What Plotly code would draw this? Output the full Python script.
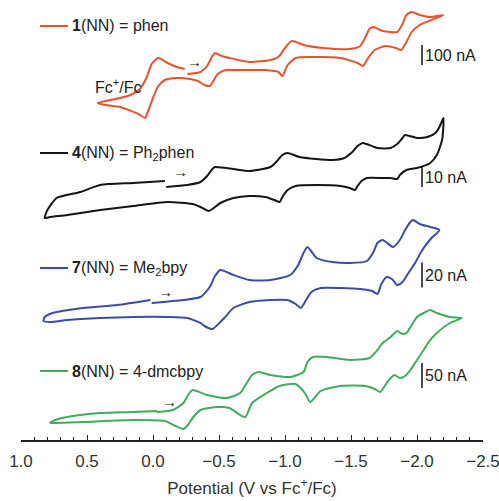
import plotly.graph_objects as go

# ---------------- data (potential in V vs Fc+/Fc, current in nA) ----------------
E_1 = [-0.26, -0.36, -0.41, -0.45, -0.47, -0.52, -0.58, -0.73, -0.89, -0.95, -1.00, -1.04, -1.06, -1.14, -1.29,
       -1.49, -1.57, -1.61, -1.64, -1.67, -1.74, -1.85, -1.89, -1.92, -1.96, -2.02, -2.10, -2.20,
       -2.11, -2.02, -1.96, -1.92, -1.88, -1.84, -1.76, -1.68, -1.63, -1.59, -1.55, -1.42, -1.19, -1.08,
       -1.02, -0.98, -0.95, -0.85, -0.73, -0.62, -0.55, -0.49, -0.43, -0.39, -0.34, -0.28, -0.18, -0.09,
       -0.04, 0.00, 0.04, 0.06, 0.11, 0.25, 0.36, 0.42,
       0.36, 0.25, 0.17, 0.10, 0.05, 0.01, -0.04, -0.11, -0.18, -0.24]
I_1 = [30, 40, 70, 120, 135, 120, 110, 90, 100, 115, 160, 190, 195, 175, 160,
       155, 170, 215, 255, 265, 245, 240, 280, 325, 340, 325, 315, 325,
       300, 275, 240, 190, 150, 160, 170, 150, 110, 70, 85, 110, 115, 110,
       75, 20, 40, 50, 50, 50, 50, 30, -30, -25, -5, 5, 10, 0,
       -30, -90, -160, -190, -170, -135, -125, -115,
       -105, -90, -75, -45, 10, 80, 110, 85, 65, 55]

E_4 = [-0.10, -0.26, -0.36, -0.41, -0.45, -0.47, -0.61, -0.73, -0.89, -0.94, -0.98, -1.02, -1.11, -1.36,
       -1.45, -1.51, -1.55, -1.59, -1.70, -1.80, -1.85, -1.89, -1.91, -2.00, -2.08, -2.14, -2.17, -2.20,
       -2.20, -2.19, -2.15, -2.10, -2.00, -1.92, -1.87, -1.85, -1.80, -1.74, -1.62, -1.58, -1.55, -1.53,
       -1.49, -1.42, -1.24, -1.08, -1.02, -0.98, -0.96, -0.92, -0.85, -0.73, -0.61, -0.51, -0.45, -0.42,
       -0.36, -0.30, -0.11, 0.15, 0.40, 0.65, 0.78, 0.82,
       0.80, 0.73, 0.55, 0.40, 0.15, -0.09]
I_4 = [1.5, 2.5, 4, 7, 10.5, 11.5, 10.5, 9.5, 11.5, 14.5, 17.5, 18.5, 16.5, 15,
       16, 19, 22, 23.5, 21, 21, 23, 26, 27.5, 26, 26.5, 28.5, 31.5, 36,
       32.5, 25, 17.5, 13.5, 11, 10, 7.5, 5.5, 6, 6, 6, 4.5, 2, 0,
       1, 2, 2.5, 2, 0, -3.5, -6, -5, -3.5, -3, -4, -6.5, -9.5, -10.5,
       -8.5, -7, -6, -8, -10, -12.5, -13.5, -14,
       -10, -4, -1, 2.5, 3.5, 4.5]

E_7 = [0.01, -0.23, -0.36, -0.43, -0.47, -0.51, -0.61, -0.73, -0.89, -1.04, -1.10, -1.14, -1.17, -1.24,
       -1.36, -1.49, -1.62, -1.67, -1.70, -1.74, -1.82, -1.87, -1.91, -1.95, -1.97, -2.02, -2.10, -2.17,
       -2.11, -2.04, -1.99, -1.93, -1.89, -1.85, -1.81, -1.77, -1.73, -1.70, -1.66, -1.57, -1.42, -1.27,
       -1.20, -1.16, -1.12, -1.08, -1.02, -0.89, -0.73, -0.61, -0.54, -0.51, -0.45, -0.39, -0.36, -0.26,
       -0.11, 0.15, 0.40, 0.65, 0.78, 0.83,
       0.82, 0.76, 0.53, 0.27, 0.02]
I_7 = [-2.4, 0, 2.4, 10.4, 19.2, 24, 20, 16, 16, 20, 28, 37.6, 42.4, 33.6,
       30.4, 29.6, 31.2, 38.4, 45.6, 48, 42.4, 48, 56, 62.4, 64, 60.8, 58.4, 56,
       49.6, 40, 30.4, 20.8, 14.4, 12, 16.8, 18.4, 12.8, 4.8, 7.2, 8.8, 9.6, 9.6,
       6.4, 0, -6.4, -3.2, 0, 0, -1.6, -6.4, -14.4, -17.6, -23.2, -20.8, -18.4, -14.4,
       -13.6, -13.6, -14.4, -16, -17.6, -16.8,
       -13.6, -10.4, -6.4, -4, 0]

E_8 = [-0.03, -0.15, -0.23, -0.27, -0.30, -0.41, -0.56, -0.66, -0.71, -0.75, -0.80, -0.89, -1.04, -1.14,
       -1.17, -1.21, -1.32, -1.49, -1.64, -1.70, -1.74, -1.80, -1.85, -1.89, -1.92, -1.96, -2.00, -2.05,
       -2.10, -2.15, -2.25, -2.34,
       -2.25, -2.15, -2.10, -2.05, -1.99, -1.95, -1.91, -1.87, -1.83, -1.80, -1.76, -1.72, -1.68, -1.61,
       -1.42, -1.27, -1.21, -1.19, -1.15, -1.08, -0.96, -0.85, -0.75, -0.70, -0.66, -0.58, -0.49, -0.36,
       -0.30, -0.27, -0.23, -0.17, -0.09, 0.15, 0.53, 0.74, 0.78,
       0.74, 0.65, 0.40, 0.15, -0.03]
I_8 = [-24, -20, -6, 12, 20, 10, 4, 14, 34, 50, 56, 50, 46, 56,
       76, 86, 86, 80, 84, 100, 114, 126, 138, 132, 134, 150, 166, 174,
       180, 174, 166, 164,
       154, 134, 120, 100, 76, 60, 48, 44, 50, 44, 30, 16, 22, 28,
       28, 18, 0, -4, 14, 32, 28, 12, -6, -34, -30, -16, -14, -20,
       -36, -48, -58, -52, -42, -40, -44, -46, -46,
       -40, -34, -26, -24, -22]

compound_numbers = ["1", "4", "7", "8"]
ligand_labels = ["phen", "Ph<sub>2</sub>phen", "Me<sub>2</sub>bpy", "4-dmcbpy"]
scale_bar_nA = [100, 10, 20, 50]
x_tick_values = [1.0, 0.5, 0.0, -0.5, -1.0, -1.5, -2.0, -2.5]

# ---------------- layout constants ----------------
W, H = 499, 501
ML, MR, MT, MB = 21, 16, 0, 61
PH = H - MT - MB          # plot height in px
PW = W - ML - MR

colors = ["#E5532F", "#151515", "#3D4CA3", "#42AC5E"]
# row (px) of zero current, nA per px for each stacked trace
placement = [(80, 5.0), (190, 0.5), (300, 0.8), (400, 2.0)]
legend_rows = [26, 153, 268, 371]
bar_bottom_nA = [75, 1.5, 10, 24]
arrow_pos = [(194, 62), (180, 172), (165, 291), (169, 401)]

def px(x, y):
    return (x - ML) / PW, (MT + PH - y) / PH

series = [(E_1, I_1), (E_4, I_4), (E_7, I_7), (E_8, I_8)]
axes_names = ["y", "y2", "y3", "y4"]

fig = go.Figure()
for k, ((E, I), col, ax) in enumerate(zip(series, colors, axes_names)):
    fig.add_trace(go.Scatter(x=E, y=I, mode="lines", yaxis=ax, showlegend=False,
                             line=dict(color=col, width=2, shape="spline", smoothing=0.6),
                             hoverinfo="skip"))

layout_axes = {}
for k, ax in enumerate(axes_names):
    y0, s = placement[k]
    rng = [(y0 - (MT + PH)) * s, (y0 - MT) * s]
    key = "yaxis" if ax == "y" else "yaxis" + ax[1:]
    d = dict(range=rng, visible=False, fixedrange=True)
    if ax != "y":
        d["overlaying"] = "y"
    layout_axes[key] = d

shapes = []
annotations = []
font = "Liberation Sans, Arial, sans-serif"
FS = 16
for k in range(4):
    yref = axes_names[k]
    x0p, yp = px(40, legend_rows[k])
    x1p, _ = px(68, legend_rows[k])
    shapes.append(dict(type="line", xref="paper", yref="paper", x0=x0p, x1=x1p, y0=yp, y1=yp,
                       line=dict(color=colors[k], width=2)))
    tx, _ = px(70, legend_rows[k])
    annotations.append(dict(xref="paper", yref="paper", x=tx, y=yp, xanchor="left", yanchor="middle",
                            text=f"<b>{compound_numbers[k]}</b>(NN) = {ligand_labels[k]}",
                            showarrow=False, font=dict(size=FS, color="#222", family=font)))
    xb = 1.0 - (422 - ML) / PW * 3.5
    b0 = bar_bottom_nA[k]
    shapes.append(dict(type="line", xref="x", yref=yref, x0=xb, x1=xb, y0=b0, y1=b0 + scale_bar_nA[k],
                       line=dict(color="#111", width=1.5)))
    annotations.append(dict(xref="x", yref=yref, x=xb, y=b0 + scale_bar_nA[k] / 2, xanchor="left",
                            yanchor="middle", xshift=1, text=f"{scale_bar_nA[k]} nA", showarrow=False,
                            font=dict(size=FS, color="#222", family=font)))
    ax_, ay_ = px(*arrow_pos[k])
    annotations.append(dict(xref="paper", yref="paper", x=ax_, y=ay_, text="→", showarrow=False,
                            xanchor="center", yanchor="middle",
                            font=dict(size=15, color="#222", family=font)))

fx, fy = px(118, 86)
annotations.append(dict(xref="paper", yref="paper", x=fx, y=fy, text="Fc<sup>+</sup>/Fc", showarrow=False,
                        xanchor="center", yanchor="middle",
                        font=dict(size=FS, color="#222", family=font)))

fig.update_layout(
    width=W, height=H, margin=dict(l=ML, r=MR, t=MT, b=MB),
    paper_bgcolor="white", plot_bgcolor="white",
    xaxis=dict(range=[1.0, -2.5], tickvals=x_tick_values, tickformat=".1f",
               ticks="inside", ticklen=5, tickwidth=1.2, tickcolor="#222",
               minor=dict(dtick=0.1, ticks="inside", ticklen=3, tickcolor="#222", tickwidth=1),
               showline=True, linecolor="#222", linewidth=1.5, showgrid=False, zeroline=False,
               tickfont=dict(size=17, color="#333", family=font), ticklabelstandoff=5,
               ticklabeloverflow="allow",
               title=dict(text="Potential (V vs Fc<sup>+</sup>/Fc)", standoff=12,
                          font=dict(size=17, color="#333", family=font)),
               anchor="y", fixedrange=True),
    shapes=shapes, annotations=annotations,
    **layout_axes,
)

fig.write_html("out.html")
